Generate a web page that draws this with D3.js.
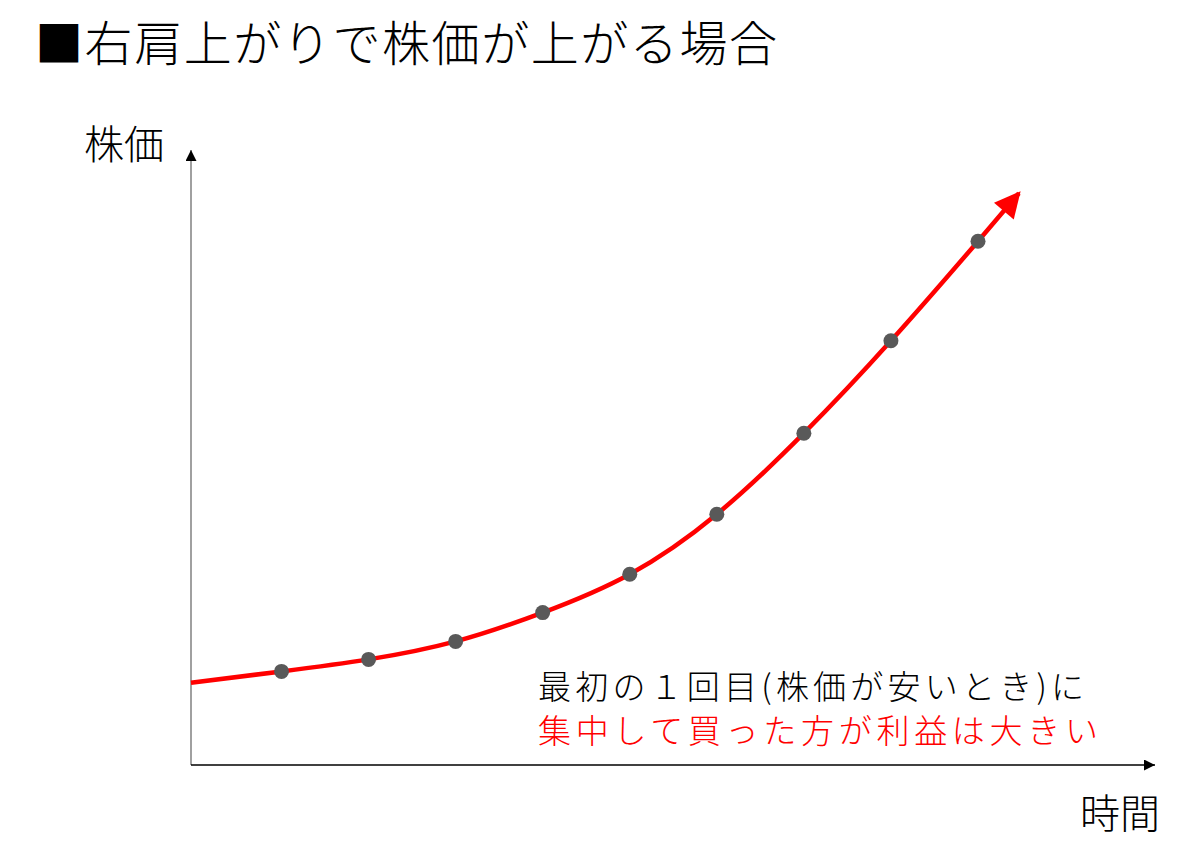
<!DOCTYPE html>
<html><head><meta charset="utf-8">
<script src="https://cdn.jsdelivr.net/npm/d3@7"></script>
<style>body{margin:0;background:#fff;} text{font-family:"Noto Sans CJK JP","Noto Sans",sans-serif;}</style>
</head><body>
<script>
const title = "■右肩上がりで株価が上がる場合";
const yLabel = "株価";
const xLabel = "時間";
const note1 = "最初の１回目(株価が安いとき)に";
const note2 = "集中して買った方が利益は大きい";
const times = [1,2,3,4,5,6,7,8,9];
const prices = [15.6,17.6,20.6,25.4,31.8,41.8,55.3,70.7,87.3];
const startPoint = [-0.04, 13.7];
const endPoint = [9.47, 95.3];

const W=1187,H=867;
const svg=d3.select("body").append("svg").attr("width",W).attr("height",H);
const x=d3.scaleLinear().domain([1,9]).range([281.5,978]);
const y=d3.scaleLinear().domain([0,100]).range([765,165]);

const defs=svg.append("defs");
defs.append("marker").attr("id","ax").attr("viewBox","0 0 10 10").attr("refX",10).attr("refY",5)
 .attr("markerWidth",13).attr("markerHeight",11).attr("markerUnits","userSpaceOnUse").attr("orient","auto")
 .append("path").attr("d","M0,0L10,5L0,10Z").attr("fill","#000");
defs.append("marker").attr("id","rd").attr("viewBox","0 0 10 10").attr("refX",9).attr("refY",5)
 .attr("markerWidth",27).attr("markerHeight",26).attr("markerUnits","userSpaceOnUse").attr("orient","auto")
 .append("path").attr("d","M0,0L10,5L0,10Z").attr("fill","#ff0000");

// axes
svg.append("line").attr("x1",191).attr("y1",765).attr("x2",191).attr("y2",150)
 .attr("stroke","#808080").attr("stroke-width",1.5).attr("marker-end","url(#ax)");
svg.append("line").attr("x1",191).attr("y1",765).attr("x2",1155).attr("y2",765)
 .attr("stroke","#000").attr("stroke-width",1.5).attr("marker-end","url(#ax)");

const pts=[startPoint, ...times.map((t,i)=>[t,prices[i]]), endPoint];
const line=d3.line().x(d=>x(d[0])).y(d=>y(d[1])).curve(d3.curveNatural);
svg.append("path").attr("d",line(pts)).attr("fill","none").attr("stroke","#ff0000")
 .attr("stroke-width",4.5).attr("marker-end","url(#rd)");

svg.selectAll("circle.pt").data(times).join("circle").attr("class","pt")
 .attr("cx",d=>x(d)).attr("cy",(d,i)=>y(prices[i])).attr("r",7.5).attr("fill","#595959");

svg.append("text").attr("x",35).attr("y",61).attr("font-size",48).attr("font-weight",300)
 .attr("textLength",742).attr("lengthAdjust","spacing").text(title);
svg.append("text").attr("x",84).attr("y",159).attr("font-size",40).attr("font-weight",300).text(yLabel);
svg.append("text").attr("x",1080).attr("y",828).attr("font-size",40).attr("font-weight",300).text(xLabel);
svg.append("text").attr("x",538).attr("y",699).attr("font-size",33).attr("font-weight",300)
 .attr("textLength",546).attr("lengthAdjust","spacing").text(note1);
svg.append("text").attr("x",538).attr("y",743).attr("font-size",33).attr("font-weight",300).attr("fill","#ff0000")
 .attr("textLength",560).attr("lengthAdjust","spacing").text(note2);
</script>
</body></html>
